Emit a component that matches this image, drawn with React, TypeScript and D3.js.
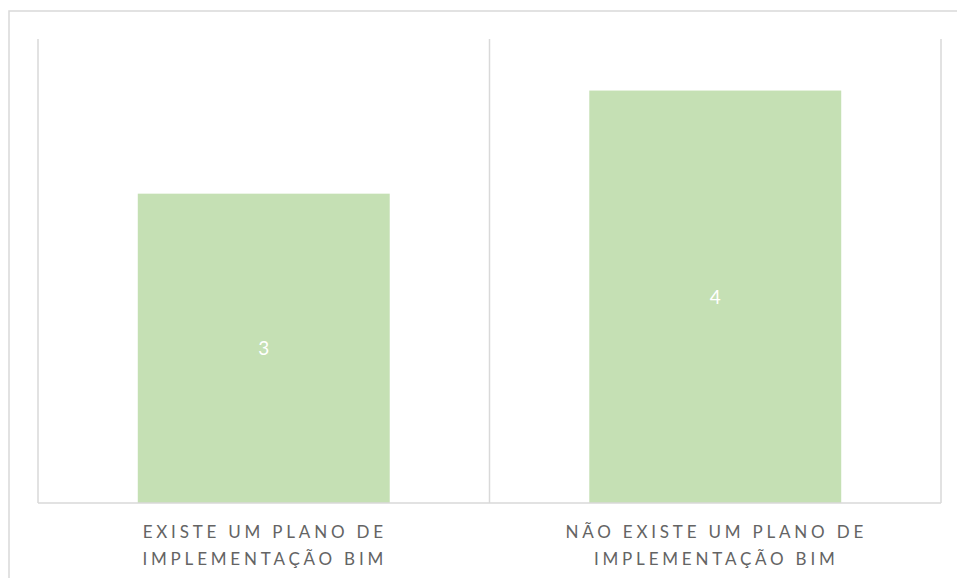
import React from "react";
import * as d3 from "d3";

const categories: string[][] = [
  ["EXISTE UM PLANO DE", "IMPLEMENTAÇÃO BIM"],
  ["NÃO EXISTE UM PLANO DE", "IMPLEMENTAÇÃO BIM"],
];
const categoryKeys = ["existe", "nao_existe"];
const values = [3, 4];
const yMax = 4.5;

const W = 957;
const H = 578;
const plot = { left: 38, right: 941, top: 39, bottom: 503 };
const FONT = "Lato, 'Open Sans', 'Liberation Sans', sans-serif";

export default function App() {
  const x = d3
    .scaleBand<string>()
    .domain(categoryKeys)
    .range([plot.left, plot.right])
    .paddingInner(0.442)
    .paddingOuter(0.221);
  const xGrid = d3
    .scaleBand<string>()
    .domain(categoryKeys)
    .range([plot.left, plot.right])
    .padding(0);
  const y = d3.scaleLinear().domain([0, yMax]).range([plot.bottom, plot.top]);

  const gridXs = [plot.left, ...categoryKeys.map((k) => (xGrid(k) as number) + xGrid.bandwidth())];

  return (
    <svg
      width={W}
      height={H}
      style={{ position: "absolute", left: 0, top: 0, display: "block", background: "#fff" }}
    >
      <rect x={9} y={11} width={W + 10} height={H + 10} fill="#fff" stroke="#d9d9d9" strokeWidth={1.5} />
      {gridXs.map((gx, i) => (
        <line key={i} x1={gx} x2={gx} y1={plot.top} y2={plot.bottom} stroke="#d9d9d9" strokeWidth={1.5} />
      ))}
      {values.map((v, i) => {
        const k = categoryKeys[i];
        const bx = x(k) as number;
        return (
          <g key={k}>
            <rect x={bx} y={y(v)} width={x.bandwidth()} height={y(0) - y(v)} fill="#c5e0b4" />
            <text
              x={bx + x.bandwidth() / 2}
              y={(y(v) + y(0)) / 2}
              dy="0.36em"
              textAnchor="middle"
              fill="#ffffff"
              fontFamily={FONT}
              fontSize={19}
            >
              {v}
            </text>
          </g>
        );
      })}
      <line x1={plot.left} x2={plot.right} y1={plot.bottom} y2={plot.bottom} stroke="#d9d9d9" strokeWidth={1.5} />
      {categories.map((lines, i) => {
        const cx = (x(categoryKeys[i]) as number) + x.bandwidth() / 2;
        return (
          <text
            key={i}
            textAnchor="middle"
            fill="#646464"
            fontFamily={FONT}
            fontSize={17}
            letterSpacing={3.8}
          >
            {lines.map((ln, j) => (
              <tspan key={j} x={cx + 1} y={537.5 + j * 27}>
                {ln}
              </tspan>
            ))}
          </text>
        );
      })}
    </svg>
  );
}
